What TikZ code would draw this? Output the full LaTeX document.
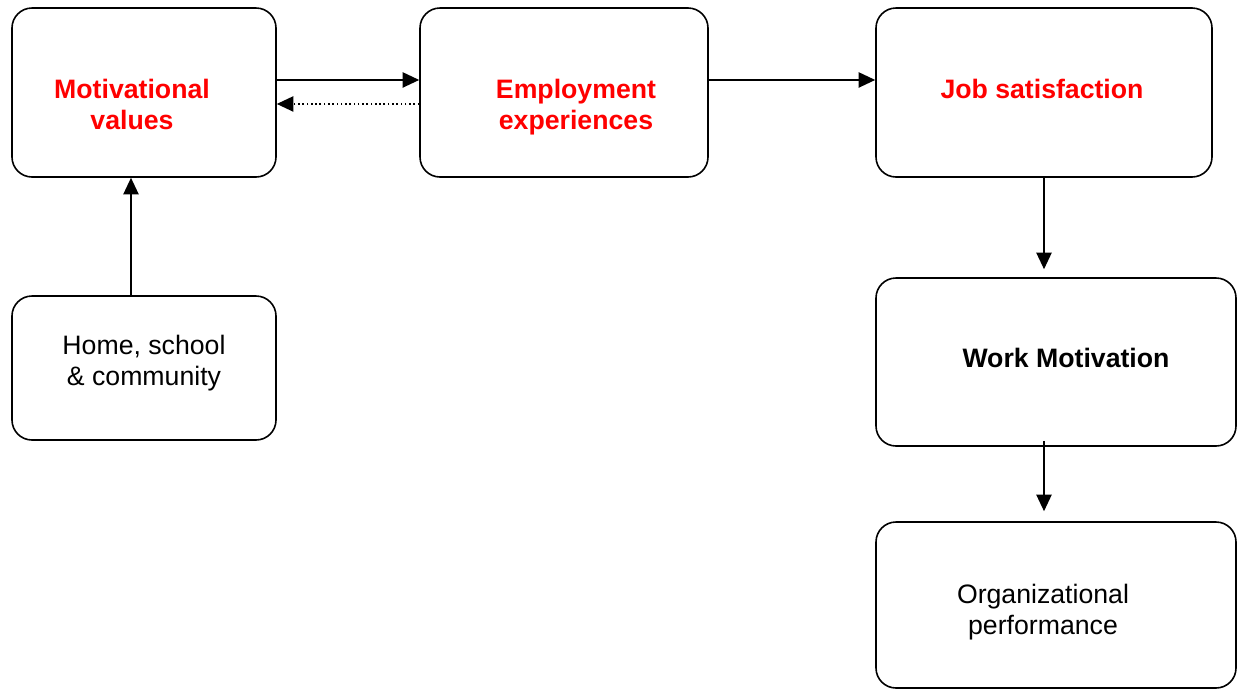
\documentclass[tikz,border=0pt]{standalone}
\usepackage{fontspec}
\setmainfont{Liberation Sans}
\usetikzlibrary{arrows.meta, positioning}

\tikzset{
  stage/.style={draw, rounded corners=15pt, line width=1.2pt, inner sep=0pt},
  hot/.style={font=\fontsize{20}{23.25}\selectfont\bfseries, text=red, align=center},
  bold/.style={font=\fontsize{20}{23.25}\selectfont\bfseries, align=center},
  plain/.style={font=\fontsize{20}{23.25}\selectfont, align=center},
  link/.style={-{Triangle[length=12.5pt, width=11.5pt]}, line width=1.2pt},
}

\begin{document}
\begin{tikzpicture}[x=0.75pt, y=-0.75pt]
  \useasboundingbox (0,0) rectangle (1238,690);
  % boxes
  \node[stage, minimum width=198pt, minimum height=126.75pt] (mv) at (144,92.5) {};
  \node[stage, minimum width=216pt, minimum height=126.75pt] (ee) at (564,92.5) {};
  \node[stage, minimum width=252pt, minimum height=126.75pt] (js) at (1044,92.5) {};
  \node[stage, minimum width=198pt, minimum height=108pt] (home) at (144,368) {};
  \node[stage, minimum width=270pt, minimum height=126pt] (wm) at (1056,362) {};
  \node[stage, minimum width=270pt, minimum height=124.5pt] (op) at (1056,605) {};
  % labels
  \node[hot] (mvtext) at (132,104.5) {Motivational\\values};
  \node[hot] (eetext) at (576,107.5) {Employment\\experiences};
  \node[hot] (jstext) at (1042,89) {Job satisfaction};
  \node[plain] (hometext) at (144,363) {Home, school\\\& community};
  \node[bold] (wmtext) at (1066,358) {Work Motivation};
  \node[plain] (optext) at (1043,612) {Organizational\\performance};
  % links
  \draw[link] ([yshift=9.4pt]mv.east) -- ([yshift=9.4pt]ee.west);
  \draw[link, dotted] ([yshift=-8.6pt]ee.west) -- ([yshift=-8.6pt]mv.east);
  \draw[link] ([yshift=9.4pt]ee.east) -- ([yshift=9.4pt]js.west);
  \draw[link] (js.south) -- ([yshift=6pt]js.south |- wm.north);
  \draw[link] ([yshift=4.5pt]wm.south -| js.south) -- ([yshift=7.5pt]op.north -| js.south);
  \draw[link] ([xshift=-9.75pt]home.north) -- ([xshift=-9.75pt]mv.south);
\end{tikzpicture}
\end{document}
